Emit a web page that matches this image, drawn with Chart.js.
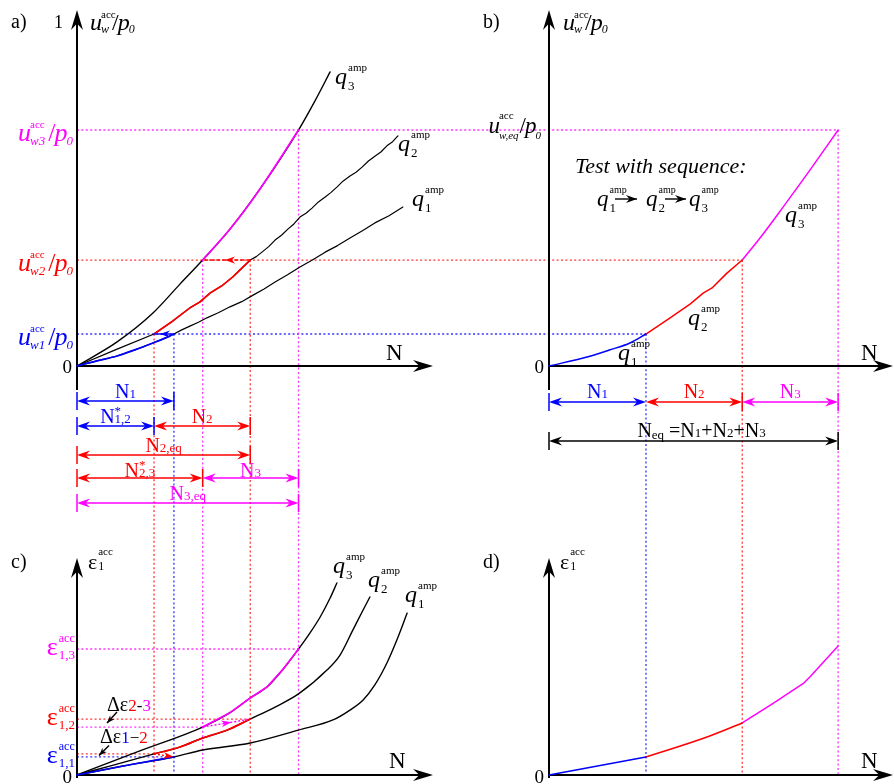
<!DOCTYPE html>
<html>
<head>
<meta charset="utf-8">
<title>Accumulated settlement and strain under a staged amplitude sequence</title>
<script src="https://cdn.jsdelivr.net/npm/chart.js@4.4.1/dist/chart.umd.min.js"></script>
<style>
  html, body { margin: 0; padding: 0; background: #ffffff; }
  #figure { position: relative; width: 894px; height: 784px; overflow: hidden; }
  #figure canvas { position: absolute; left: 0; top: 0; }
</style>
</head>
<body>
<div id="figure">
  <canvas id="panelA" width="894" height="784"></canvas>
  <canvas id="panelB" width="894" height="784"></canvas>
  <canvas id="panelC" width="894" height="784"></canvas>
  <canvas id="panelD" width="894" height="784"></canvas>
</div>
<script>
// ---------- stage data ----------
const stageCycles = [27.3, 27.1, 27.0];      // N1, N2, N3
const startCycles = [21.7, 35.4];            // N*1,2 , N*2,3
const uLevels = [0.093, 0.308, 0.686];       // u_w1/p0, u_w2/p0, u_w3/p0
const epsLevels = [0.084, 0.260, 0.586];     // eps_1,1 , eps_1,2 , eps_1,3
const epsStartLevels = [0.098, 0.223];       // strain of q2 at N*1,2 and of q3 at N*2,3

// ---------- a) settlement curves for constant amplitudes ----------
const aQ3N = [0, 11.3, 21.4, 29.0, 35.4, 43.1, 51.5, 62.4, 67.0, 71.3];
const aQ3U = [0, 0.070, 0.154, 0.238, 0.308, 0.398, 0.514, 0.686, 0.770, 0.855];
const aQ2N = [0, 11.3, 21.7, 27.0, 31.8, 34.6, 37.5, 40.8, 43.9, 46.5, 48.8, 50.5, 52.1, 54.0, 55.8, 57.6, 59.4, 61.1, 62.8, 64.5, 66.2, 68.0, 69.9, 71.5, 73.2, 75.0, 76.9, 78.6, 80.3, 82.1, 83.9, 85.6, 87.3, 88.9, 90.4];
const aQ2U = [0, 0.049, 0.093, 0.131, 0.169, 0.186, 0.212, 0.233, 0.259, 0.285, 0.308, 0.318, 0.331, 0.347, 0.366, 0.380, 0.398, 0.413, 0.433, 0.444, 0.459, 0.477, 0.491, 0.504, 0.520, 0.538, 0.552, 0.563, 0.578, 0.596, 0.610, 0.622, 0.640, 0.652, 0.669];
const aQ1N = [0, 5.6, 11.3, 16.3, 21.4, 24.8, 27.3, 29.5, 31.8, 34.2, 36.6, 39.8, 43.1, 46.4, 49.6, 52.7, 55.8, 59.3, 62.8, 66.3, 69.9, 73.4, 76.9, 80.4, 83.9, 87.9, 91.8];
const aQ1U = [0, 0.015, 0.029, 0.047, 0.067, 0.081, 0.093, 0.105, 0.116, 0.127, 0.140, 0.155, 0.172, 0.187, 0.206, 0.224, 0.244, 0.265, 0.288, 0.308, 0.331, 0.350, 0.372, 0.393, 0.416, 0.437, 0.462];
// parts of those curves that are used in the staged test
const aSeg1N = [0, 5.6, 11.3, 16.3, 21.4, 24.8, 27.3];
const aSeg1U = [0, 0.015, 0.029, 0.047, 0.067, 0.081, 0.093];
const aSeg2N = [21.7, 27.0, 31.8, 34.6, 37.5, 40.8, 43.9, 46.5, 48.8];
const aSeg2U = [0.093, 0.131, 0.169, 0.186, 0.212, 0.233, 0.259, 0.285, 0.308];
const aSeg3N = [35.4, 43.1, 51.5, 62.4];
const aSeg3U = [0.308, 0.398, 0.514, 0.686];

// ---------- b) settlement in the staged test ----------
const bSeg1N = [0, 10.7, 17.2, 22.8, 27.3];
const bSeg1U = [0, 0.026, 0.047, 0.067, 0.093];
const bSeg2N = [27.3, 34.1, 39.7, 43.4, 45.9, 50.1, 54.4];
const bSeg2U = [0.093, 0.140, 0.180, 0.212, 0.227, 0.270, 0.308];
const bSeg3N = [54.4, 59.4, 65.9, 73.5, 81.4];
const bSeg3U = [0.308, 0.372, 0.462, 0.570, 0.686];

// ---------- c) axial strain for constant amplitudes ----------
const cQ3N = [0, 17.7, 35.4, 43.1, 48.8, 53.5, 58.2, 62.4, 65.6, 68.5, 71.3, 73.2];
const cQ3E = [0, 0.112, 0.223, 0.290, 0.358, 0.409, 0.495, 0.586, 0.660, 0.735, 0.823, 0.893];
const cQ2N = [0, 10.0, 21.7, 29.0, 35.4, 42.3, 48.8, 55.8, 62.4, 70.4, 74.1, 77.7, 80.3, 82.5];
const cQ2E = [0, 0.045, 0.098, 0.130, 0.172, 0.209, 0.260, 0.316, 0.377, 0.488, 0.558, 0.674, 0.758, 0.828];
const cQ1N = [0, 13.0, 27.3, 35.4, 48.8, 62.4, 72.1, 76.9, 80.6, 83.9, 87.3, 90.1, 93.0];
const cQ1E = [0, 0.042, 0.084, 0.116, 0.149, 0.209, 0.256, 0.302, 0.349, 0.419, 0.521, 0.628, 0.753];
const cSeg1N = [0, 13.0, 27.3];
const cSeg1E = [0, 0.042, 0.084];
const cSeg2N = [21.7, 29.0, 35.4, 42.3, 48.8];
const cSeg2E = [0.098, 0.130, 0.172, 0.209, 0.260];
const cSeg3N = [35.4, 43.1, 48.8, 53.5, 58.2, 62.4];
const cSeg3E = [0.223, 0.290, 0.358, 0.409, 0.495, 0.586];

// ---------- d) axial strain in the staged test ----------
const dSeg1N = [0, 27.3];
const dSeg1E = [0, 0.084];
const dSeg2N = [27.3, 44.5, 54.4];
const dSeg2E = [0.084, 0.177, 0.242];
const dSeg3N = [54.4, 63.2, 71.6, 73.5, 81.4];
const dSeg3E = [0.242, 0.334, 0.426, 0.457, 0.600];

// derived stage boundaries
const n2eq = startCycles[0] + stageCycles[1];
const n3eq = startCycles[1] + stageCycles[2];
const cum = [stageCycles[0], stageCycles[0] + stageCycles[1], stageCycles[0] + stageCycles[1] + stageCycles[2]];

// ---------- drawing helpers ----------
const W = 894, H = 784;
const SERIF = '"Liberation Serif","Times New Roman",serif';
const BLUE = '#0000ff', RED = '#ff0000', MAGENTA = '#ff00ff', BLACK = '#000000';
const BLUE_G = '#3434ff', RED_G = '#ff3434', MAGENTA_G = '#ff34ff';

const boxes = {
  a: { left: 77, top: 22, right: 432, bottom: 366, xMax: 100, yTip: 10, xTip: 433, yFoot: 390 },
  b: { left: 549, top: 22, right: 890, bottom: 366, xMax: 96, yTip: 10, xTip: 893, yFoot: 390 },
  c: { left: 77, top: 560, right: 432, bottom: 775, xMax: 100, yTip: 558, xTip: 433, yFoot: 778 },
  d: { left: 549, top: 560, right: 890, bottom: 775, xMax: 96, yTip: 558, xTip: 893, yFoot: 778 }
};

const fnt = (size, italic) => (italic ? 'italic ' : '') + size + 'px ' + SERIF;
const px = ch => v => ch.scales.x.getPixelForValue(v);
const py = ch => v => ch.scales.y.getPixelForValue(v);

function dotted(ctx, x1, y1, x2, y2, color) {
  ctx.save();
  ctx.strokeStyle = color; ctx.lineWidth = 1.3; ctx.setLineDash([2, 2.4]);
  ctx.beginPath(); ctx.moveTo(x1, y1); ctx.lineTo(x2, y2); ctx.stroke();
  ctx.restore();
}
function head(ctx, x, y, ang, len, hw, color) {
  ctx.save();
  ctx.translate(x, y); ctx.rotate(ang); ctx.fillStyle = color;
  ctx.beginPath(); ctx.moveTo(0, 0); ctx.lineTo(-len, -hw); ctx.lineTo(-len * 0.68, 0); ctx.lineTo(-len, hw);
  ctx.closePath(); ctx.fill();
  ctx.restore();
}
function arrowLine(ctx, x1, y1, x2, y2, color, dash, frac, len, hw) {
  ctx.save();
  ctx.strokeStyle = color; ctx.lineWidth = 1.4; ctx.setLineDash(dash);
  ctx.beginPath(); ctx.moveTo(x1, y1); ctx.lineTo(x2, y2); ctx.stroke();
  ctx.restore();
  head(ctx, x1 + (x2 - x1) * frac, y1 + (y2 - y1) * frac, Math.atan2(y2 - y1, x2 - x1), len || 10, hw || 3.6, color);
}
function axes(ctx, chart, box) {
  const a = chart.chartArea;
  ctx.save();
  ctx.strokeStyle = BLACK; ctx.lineWidth = 2; ctx.setLineDash([]);
  ctx.beginPath(); ctx.moveTo(a.left, box.yFoot); ctx.lineTo(a.left, box.yTip + 12); ctx.stroke();
  ctx.beginPath(); ctx.moveTo(a.left, a.bottom); ctx.lineTo(box.xTip - 12, a.bottom); ctx.stroke();
  ctx.restore();
  head(ctx, a.left, box.yTip, -Math.PI / 2, 20, 6, BLACK);
  head(ctx, box.xTip, a.bottom, 0, 20, 6, BLACK);
}
function dim(ctx, x1, x2, y, color, ticks) {
  ctx.save();
  ctx.strokeStyle = color; ctx.lineWidth = 1.5; ctx.setLineDash([]);
  ctx.beginPath(); ctx.moveTo(x1 + 4, y); ctx.lineTo(x2 - 4, y); ctx.stroke();
  ticks.forEach(t => { ctx.beginPath(); ctx.moveTo(t, y - 9); ctx.lineTo(t, y + 9); ctx.stroke(); });
  ctx.restore();
  head(ctx, x1, y, Math.PI, 13, 4.5, color);
  head(ctx, x2, y, 0, 13, 4.5, color);
}
// mixed-size text: plain runs {t,s,i,y,c} and stacked super/subscripts {up,dn,...}
function rich(ctx, x, y, parts, color, align) {
  const widths = parts.map(p => {
    if (p.up !== undefined) {
      ctx.font = fnt(p.us, false); const a = ctx.measureText(p.up).width;
      ctx.font = fnt(p.ds, p.di); const b = ctx.measureText(p.dn).width;
      return (p.subAdv ? b : Math.max(a, b)) + (p.gap || 0);
    }
    ctx.font = fnt(p.s, p.i); return ctx.measureText(p.t).width + (p.gap || 0);
  });
  const total = widths.reduce((s, w) => s + w, 0);
  let cx = align === 'center' ? x - total / 2 : align === 'right' ? x - total : x;
  ctx.save();
  ctx.textAlign = 'left'; ctx.textBaseline = 'alphabetic';
  parts.forEach((p, k) => {
    ctx.fillStyle = p.c || color;
    if (p.up !== undefined) {
      ctx.font = fnt(p.us, false); ctx.fillText(p.up, cx + (p.ux || 0), y + p.uy);
      ctx.font = fnt(p.ds, p.di); ctx.fillText(p.dn, cx, y + p.dy);
    } else {
      ctx.font = fnt(p.s, p.i); ctx.fillText(p.t, cx, y + (p.y || 0));
    }
    cx += widths[k];
  });
  ctx.restore();
}
const uLabel = (size, sub, subSize) => [
  { t: 'u', s: size, i: true, gap: -1 },
  { up: 'acc', us: Math.round(size * 0.44), uy: -Math.round(size * 0.5), ux: 0, dn: sub, ds: subSize, di: true, dy: Math.round(size * 0.14), gap: 3, subAdv: true },
  { t: '/', s: size, gap: -1 },
  { t: 'p', s: size, i: true, gap: -1 },
  { t: '0', s: subSize, i: true, y: Math.round(size * 0.14) }
];
const qLabel = (size, n) => [
  { t: 'q', s: size, i: true, gap: 1 },
  { up: 'amp', us: Math.round(size * 0.45), uy: -Math.round(size * 0.55), dn: n, ds: Math.round(size * 0.55), dy: Math.round(size * 0.25) }
];
const epsLabel = (size, sub) => [
  { t: 'ε', s: size, gap: 1 },
  { up: 'acc', us: 12, uy: -13, dn: sub, ds: 13, dy: 4 }
];
const nLabel = (sub, star) => star
  ? [{ t: 'N', s: 20 }, { up: '*', us: 13, uy: -8, dn: sub, ds: 13, dy: 0 }]
  : [{ t: 'N', s: 20 }, { t: sub, s: 13 }];

const series = (ns, vs, color, width, smooth) => ({
  data: ns.map((n, i) => ({ x: n, y: vs[i] })),
  borderColor: color, borderWidth: width, pointRadius: 0, fill: false, clip: false,
  tension: 0, cubicInterpolationMode: smooth ? 'monotone' : 'default'
});

const charts = {};
function makeChart(key, id, datasets, hooks) {
  const box = boxes[key];
  charts[key] = new Chart(document.getElementById(id), {
    type: 'line',
    data: { datasets },
    options: {
      responsive: false, animation: false, events: [],
      layout: { padding: { left: box.left, top: box.top, right: W - box.right, bottom: H - box.bottom } },
      plugins: { legend: { display: false }, tooltip: { enabled: false }, title: { display: false } },
      scales: {
        x: { type: 'linear', min: 0, max: box.xMax, display: false },
        y: { type: 'linear', min: 0, max: 1, display: false }
      },
      elements: { line: { borderJoinStyle: 'round', borderCapStyle: 'round' } }
    },
    plugins: [{ id: id + 'Art', beforeDatasetsDraw: hooks.under, afterDatasetsDraw: hooks.over }]
  });
}

// ---------- c) strain, constant amplitudes ----------
makeChart('c', 'panelC', [
  series(cSeg1N, cSeg1E, BLUE, 1.7, true),
  series(cSeg2N, cSeg2E, RED, 1.7, true),
  series(cSeg3N, cSeg3E, MAGENTA, 1.7, false),
  series(cQ3N, cQ3E, BLACK, 1.4, true),
  series(cQ2N, cQ2E, BLACK, 1.4, true),
  series(cQ1N, cQ1E, BLACK, 1.4, true)
], {
  under(chart) {
    const ctx = chart.ctx, X = px(chart), Y = py(chart);
    dotted(ctx, X(0), Y(epsLevels[0]), X(stageCycles[0]), Y(epsLevels[0]), BLUE_G);
    dotted(ctx, X(0), Y(epsStartLevels[0]), X(startCycles[0]), Y(epsStartLevels[0]), RED_G);
    dotted(ctx, X(0), Y(epsLevels[1]), X(n2eq), Y(epsLevels[1]), RED_G);
    dotted(ctx, X(0), Y(epsStartLevels[1]), X(startCycles[1]), Y(epsStartLevels[1]), MAGENTA_G);
    dotted(ctx, X(0), Y(epsLevels[2]), X(n3eq), Y(epsLevels[2]), MAGENTA_G);
    axes(ctx, chart, boxes.c);
  },
  over(chart) {
    const ctx = chart.ctx, X = px(chart), Y = py(chart), o = chart.chartArea;
    arrowLine(ctx, X(startCycles[0]), Y(epsStartLevels[0]), X(stageCycles[0]), Y(epsLevels[0]), RED, [2, 2], 0.97, 10, 3.4);
    arrowLine(ctx, X(startCycles[1]), Y(epsStartLevels[1]), X(n2eq), Y(epsLevels[1]), MAGENTA, [2, 2], 0.6, 10, 3.4);
    rich(ctx, 11, o.top + 8, [{ t: 'c)', s: 20 }], BLACK);
    rich(ctx, o.left + 11, o.top + 9, [{ t: 'ε', s: 22, gap: 1 }, { up: 'acc', us: 11, uy: -14, dn: '1', ds: 12, dy: 1 }], BLACK);
    rich(ctx, o.left - 5, o.bottom + 8, [{ t: '0', s: 19 }], BLACK, 'right');
    rich(ctx, 389, o.bottom - 7, [{ t: 'N', s: 23 }], BLACK);
    [['1,1', BLUE], ['1,2', RED], ['1,3', MAGENTA]].forEach(([s, c], k) =>
      rich(ctx, o.left - 2, Y(epsLevels[k]) + 6, epsLabel(26, s), c, 'right'));
    // increments between the end of one stage and the start of the next
    const t23y = (Y(epsLevels[1]) + Y(epsStartLevels[1])) / 2, t12y = (Y(epsLevels[0]) + Y(epsStartLevels[0])) / 2;
    arrowLine(ctx, o.left + 40, t23y - 11, o.left + 30, t23y, BLACK, [], 1, 8, 3);
    arrowLine(ctx, o.left + 32, t12y - 10, o.left + 22, t12y, BLACK, [], 1, 8, 3);
    rich(ctx, o.left + 30, t23y - 12, [{ t: 'Δε', s: 20 }, { t: '2', s: 17, c: RED }, { t: '-', s: 17 }, { t: '3', s: 17, c: MAGENTA }], BLACK);
    rich(ctx, o.left + 23, t12y - 12, [{ t: 'Δε', s: 20 }, { t: '1', s: 17, c: BLUE }, { t: '−', s: 17 }, { t: '2', s: 17, c: RED }], BLACK);
    rich(ctx, 333, 573, qLabel(24, '3'), BLACK);
    rich(ctx, 368, 587, qLabel(24, '2'), BLACK);
    rich(ctx, 405, 602, qLabel(24, '1'), BLACK);
  }
});

// ---------- d) strain, staged test ----------
makeChart('d', 'panelD', [
  series(dSeg1N, dSeg1E, BLUE, 1.5, false),
  series(dSeg2N, dSeg2E, RED, 1.5, true),
  series(dSeg3N, dSeg3E, MAGENTA, 1.5, false)
], {
  under(chart) { axes(chart.ctx, chart, boxes.d); },
  over(chart) {
    const ctx = chart.ctx, o = chart.chartArea;
    rich(ctx, 483, o.top + 8, [{ t: 'd)', s: 20 }], BLACK);
    rich(ctx, o.left + 11, o.top + 9, [{ t: 'ε', s: 22, gap: 1 }, { up: 'acc', us: 11, uy: -14, dn: '1', ds: 12, dy: 1 }], BLACK);
    rich(ctx, o.left - 5, o.bottom + 8, [{ t: '0', s: 19 }], BLACK, 'right');
    rich(ctx, 861, o.bottom - 7, [{ t: 'N', s: 23 }], BLACK);
  }
});

// ---------- b) settlement, staged test ----------
makeChart('b', 'panelB', [
  series(bSeg1N, bSeg1U, BLUE, 1.5, true),
  series(bSeg2N, bSeg2U, RED, 1.5, false),
  series(bSeg3N, bSeg3U, MAGENTA, 1.5, true)
], {
  under(chart) {
    const ctx = chart.ctx, X = px(chart), Y = py(chart), floor = py(charts.d)(0);
    [BLUE_G, RED_G, MAGENTA_G].forEach((c, k) => dotted(ctx, X(cum[k]), Y(uLevels[k]), X(cum[k]), floor, c));
    axes(ctx, chart, boxes.b);
  },
  over(chart) {
    const ctx = chart.ctx, X = px(chart), Y = py(chart), o = chart.chartArea;
    rich(ctx, 483, 28, [{ t: 'b)', s: 20 }], BLACK);
    rich(ctx, o.left + 14, 30, uLabel(24, 'w', 12), BLACK);
    rich(ctx, o.left - 8, Y(uLevels[2]) + 3, [
      { t: 'u', s: 23, i: true, gap: -1 },
      { up: 'acc', us: 11, uy: -14, dn: 'w,eq', ds: 11, di: true, dy: 6, gap: 1, subAdv: true },
      { t: '/', s: 23, gap: -1 }, { t: 'p', s: 23, i: true, gap: -1 }, { t: '0', s: 11, i: true, y: 6 }
    ], BLACK, 'right');
    rich(ctx, o.left - 5, o.bottom + 7, [{ t: '0', s: 19 }], BLACK, 'right');
    rich(ctx, 861, o.bottom - 6, [{ t: 'N', s: 23 }], BLACK);
    rich(ctx, 575, 173, [{ t: 'Test with sequence:', s: 22, i: true }], BLACK);
    rich(ctx, 597, 206, qLabel(23, '1'), BLACK);
    arrowLine(ctx, 615, 199, 637, 199, BLACK, [], 1, 11, 4);
    rich(ctx, 646, 206, qLabel(23, '2'), BLACK);
    arrowLine(ctx, 665, 199, 686, 199, BLACK, [], 1, 11, 4);
    rich(ctx, 689, 206, qLabel(23, '3'), BLACK);
    rich(ctx, 785, 222, qLabel(24, '3'), BLACK);
    rich(ctx, 688, 325, qLabel(24, '2'), BLACK);
    rich(ctx, 618, 360, qLabel(24, '1'), BLACK);
    // cycle counts of the three stages
    const x0 = X(0), x1 = X(cum[0]), x2 = X(cum[1]), x3 = X(cum[2]);
    dim(ctx, x0, x1, 402, BLUE, [x0]);
    dim(ctx, x1, x2, 402, RED, [x2]);
    dim(ctx, x2, x3, 402, MAGENTA, [x3]);
    rich(ctx, (x0 + x1) / 2, 398, nLabel('1'), BLUE, 'center');
    rich(ctx, (x1 + x2) / 2, 398, nLabel('2'), RED, 'center');
    rich(ctx, (x2 + x3) / 2, 398, nLabel('3'), MAGENTA, 'center');
    dim(ctx, x0, x3, 441, BLACK, [x0, x3]);
    rich(ctx, (x0 + x3) / 2 + 8, 437, [
      { t: 'N', s: 20 }, { t: 'eq', s: 13, y: 2 }, { t: ' =N', s: 20 }, { t: '1', s: 13 },
      { t: '+N', s: 20 }, { t: '2', s: 13 }, { t: '+N', s: 20 }, { t: '3', s: 13 }
    ], BLACK, 'center');
  }
});

// ---------- a) settlement, constant amplitudes ----------
makeChart('a', 'panelA', [
  series(aSeg1N, aSeg1U, BLUE, 1.7, true),
  series(aSeg2N, aSeg2U, RED, 1.7, false),
  series(aSeg3N, aSeg3U, MAGENTA, 1.7, true),
  series(aQ3N, aQ3U, BLACK, 1.4, true),
  series(aQ2N, aQ2U, BLACK, 1.2, false),
  series(aQ1N, aQ1U, BLACK, 1.2, false)
], {
  under(chart) {
    const ctx = chart.ctx, X = px(chart), Y = py(chart);
    const XB = px(charts.b), floor = py(charts.c)(0);
    [BLUE_G, RED_G, MAGENTA_G].forEach((c, k) => dotted(ctx, X(0), Y(uLevels[k]), XB(cum[k]), Y(uLevels[k]), c));
    dotted(ctx, X(startCycles[0]), Y(uLevels[0]), X(startCycles[0]), floor, RED_G);
    dotted(ctx, X(stageCycles[0]), Y(uLevels[0]), X(stageCycles[0]), floor, BLUE_G);
    dotted(ctx, X(startCycles[1]), Y(uLevels[1]), X(startCycles[1]), floor, MAGENTA_G);
    dotted(ctx, X(n2eq), Y(uLevels[1]), X(n2eq), floor, RED_G);
    dotted(ctx, X(n3eq), Y(uLevels[2]), X(n3eq), floor, MAGENTA_G);
    axes(ctx, chart, boxes.a);
  },
  over(chart) {
    const ctx = chart.ctx, X = px(chart), Y = py(chart), o = chart.chartArea;
    arrowLine(ctx, X(stageCycles[0]), Y(uLevels[0]), X(startCycles[0]), Y(uLevels[0]), BLUE, [], 0.7, 10, 3.6);
    arrowLine(ctx, X(n2eq), Y(uLevels[1]), X(startCycles[1]), Y(uLevels[1]), RED, [4, 2], 0.53, 10, 3.6);
    rich(ctx, 11, 28, [{ t: 'a)', s: 20 }], BLACK);
    rich(ctx, o.left - 14, Y(1) + 6, [{ t: '1', s: 18 }], BLACK, 'right');
    rich(ctx, o.left - 5, o.bottom + 7, [{ t: '0', s: 19 }], BLACK, 'right');
    rich(ctx, o.left + 13, 30, uLabel(24, 'w', 12), BLACK);
    rich(ctx, 386, o.bottom - 6, [{ t: 'N', s: 23 }], BLACK);
    [['w1', BLUE], ['w2', RED], ['w3', MAGENTA]].forEach(([s, c], k) =>
      rich(ctx, 18, Y(uLevels[k]) + 11, uLabel(26, s, 13), c));
    rich(ctx, 335, 84, qLabel(24, '3'), BLACK);
    rich(ctx, 398, 151, qLabel(24, '2'), BLACK);
    rich(ctx, 412, 206, qLabel(24, '1'), BLACK);
    // cycle counts: actual and equivalent
    const x0 = X(0), x1 = X(stageCycles[0]), x12 = X(startCycles[0]), x2e = X(n2eq), x23 = X(startCycles[1]), x3e = X(n3eq);
    dim(ctx, x0, x1, 401, BLUE, [x0, x1]);
    rich(ctx, (x0 + x1) / 2, 398, nLabel('1'), BLUE, 'center');
    dim(ctx, x0, x12, 426, BLUE, [x0, x12]);
    rich(ctx, (x0 + x12) / 2, 423, nLabel('1,2', true), BLUE, 'center');
    dim(ctx, x12, x2e, 426, RED, [x2e]);
    rich(ctx, (x12 + x2e) / 2, 423, nLabel('2'), RED, 'center');
    dim(ctx, x0, x2e, 455, RED, [x0, x2e]);
    rich(ctx, (x0 + x2e) / 2, 452, nLabel('2,eq'), RED, 'center');
    dim(ctx, x0, x23, 478, RED, [x0, x23]);
    rich(ctx, (x0 + x23) / 2, 477, nLabel('2,3', true), RED, 'center');
    dim(ctx, x23, x3e, 478, MAGENTA, [x3e]);
    rich(ctx, (x23 + x3e) / 2, 477, nLabel('3'), MAGENTA, 'center');
    dim(ctx, x0, x3e, 503, MAGENTA, [x0, x3e]);
    rich(ctx, (x0 + x3e) / 2, 500, nLabel('3,eq'), MAGENTA, 'center');
  }
});
</script>
</body>
</html>
